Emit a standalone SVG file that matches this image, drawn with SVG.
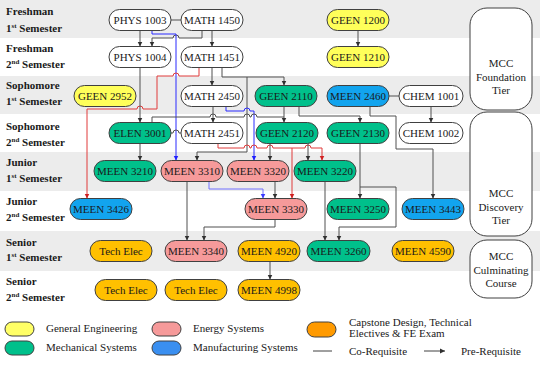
<svg xmlns="http://www.w3.org/2000/svg" width="540" height="372" viewBox="0 0 540 372" font-family="'Liberation Serif', 'Times New Roman', 'DejaVu Serif', serif">
<defs>
<style>
.band{fill:#ececec}
.n{stroke:#404040;stroke-width:1}
.w{fill:#ffffff}.y{fill:#ffff5a}.g{fill:#00c08b}.b{fill:#12a4ee}.p{fill:#f69a9a}.o{fill:#ffc000}
.t{font-family:'Liberation Serif','Times New Roman','DejaVu Serif',serif;font-size:11px;fill:#1a1a1a;text-anchor:middle}
.lab{font-family:'Liberation Serif','Times New Roman','DejaVu Serif',serif;font-size:11px;font-weight:bold;fill:#1a1a1a}
.lg{font-family:'Liberation Serif','Times New Roman','DejaVu Serif',serif;font-size:11px;fill:#1a1a1a}
.c{fill:none;stroke:#505050;stroke-width:1}
.cr{fill:none;stroke:#e03a3a;stroke-width:1}
.cb{fill:none;stroke:#2b2bff;stroke-width:1}
.cl{fill:none;stroke:#7070ff;stroke-width:1}
.mcc{fill:#ffffff;stroke:#404040;stroke-width:1}
</style>
<marker id="ag" markerWidth="6" markerHeight="6" refX="5" refY="3" orient="auto" markerUnits="userSpaceOnUse"><path d="M0,0.5 L5,3 L0,5.5 Z" fill="#303030"/></marker>
<marker id="ar" markerWidth="6" markerHeight="6" refX="5" refY="3" orient="auto" markerUnits="userSpaceOnUse"><path d="M0,0.5 L5,3 L0,5.5 Z" fill="#d02020"/></marker>
<marker id="ab" markerWidth="6" markerHeight="6" refX="5" refY="3" orient="auto" markerUnits="userSpaceOnUse"><path d="M0,0.5 L5,3 L0,5.5 Z" fill="#1f1fff"/></marker>
<marker id="al" markerWidth="6" markerHeight="6" refX="5" refY="3" orient="auto" markerUnits="userSpaceOnUse"><path d="M0,0.5 L5,3 L0,5.5 Z" fill="#3a3aff"/></marker>
</defs>

<g id="bands">
<rect class="band" x="0" y="0" width="540" height="38"/>
<rect class="band" x="0" y="76" width="540" height="38"/>
<rect class="band" x="0" y="152" width="540" height="39"/>
<rect class="band" x="0" y="231" width="540" height="40"/>
</g>

<g id="row-labels">
<text class="lab" x="6" y="15">Freshman</text>
<text class="lab" x="6" y="32">1<tspan font-size="7" dy="-4">st</tspan><tspan dy="4"> Semester</tspan></text>
<text class="lab" x="6" y="52">Freshman</text>
<text class="lab" x="6" y="68">2<tspan font-size="7" dy="-4">nd</tspan><tspan dy="4"> Semester</tspan></text>
<text class="lab" x="6" y="89">Sophomore</text>
<text class="lab" x="6" y="105">1<tspan font-size="7" dy="-4">st</tspan><tspan dy="4"> Semester</tspan></text>
<text class="lab" x="6" y="130">Sophomore</text>
<text class="lab" x="6" y="146">2<tspan font-size="7" dy="-4">nd</tspan><tspan dy="4"> Semester</tspan></text>
<text class="lab" x="6" y="166">Junior</text>
<text class="lab" x="6" y="182">1<tspan font-size="7" dy="-4">st</tspan><tspan dy="4"> Semester</tspan></text>
<text class="lab" x="6" y="205">Junior</text>
<text class="lab" x="6" y="221">2<tspan font-size="7" dy="-4">nd</tspan><tspan dy="4"> Semester</tspan></text>
<text class="lab" x="6" y="246">Senior</text>
<text class="lab" x="6" y="261">1<tspan font-size="7" dy="-4">st</tspan><tspan dy="4"> Semester</tspan></text>
<text class="lab" x="6" y="285">Senior</text>
<text class="lab" x="6" y="301">2<tspan font-size="7" dy="-4">nd</tspan><tspan dy="4"> Semester</tspan></text>
</g>

<g id="mcc">
<g id="mcc-foundation"><rect class="mcc" x="470" y="8" width="62" height="102" rx="17"/>
<text class="t" x="501" y="67">MCC</text><text class="t" x="501" y="81">Foundation</text><text class="t" x="501" y="94">Tier</text></g>
<g id="mcc-discovery"><rect class="mcc" x="470" y="112" width="62" height="124" rx="17"/>
<text class="t" x="501" y="197">MCC</text><text class="t" x="501" y="211">Discovery</text><text class="t" x="501" y="224">Tier</text></g>
<g id="mcc-culminating"><rect class="mcc" x="470" y="240" width="62" height="58" rx="17"/>
<text class="t" x="501" y="260">MCC</text><text class="t" x="501" y="274">Culminating</text><text class="t" x="501" y="287">Course</text></g>
</g>

<g id="connectors">
<path class="c" d="M171 20 H181"/>
<path class="c" d="M140 30.5 V46.5" marker-end="url(#ag)"/>
<path class="c" d="M202 30.5 V38 H179 A3 3 0 0 0 173 38 H152 V46.5" marker-end="url(#ag)"/>
<path class="c" d="M212 30.5 V46.5" marker-end="url(#ag)"/>
<path class="c" d="M358 30.5 V46.5" marker-end="url(#ag)"/>
<path class="cb" d="M152 30.5 V34 H176 V160.5" marker-end="url(#ab)"/>
<path class="cr" d="M199 67.5 V76 H179 A3 3 0 0 0 173 76 H157 V109 H143 A3 3 0 0 0 137 109 H87 V198.5" marker-end="url(#ar)"/>
<path class="c" d="M140 67.5 V122.5" marker-end="url(#ag)"/>
<path class="c" d="M212 67.5 V85.5" marker-end="url(#ag)"/>
<path class="c" d="M222 67.5 V77 H284 V85.5" marker-end="url(#ag)"/>
<path class="c" d="M247 77 V152 H197 V160.5" marker-end="url(#ag)"/>
<path class="c" d="M213 106.5 V122.5" marker-end="url(#ag)"/>
<path class="cb" d="M226 106.5 V111 H244 A3 3 0 0 1 250 111 H254 V160.5" marker-end="url(#ab)"/>
<path class="c" d="M152 122.5 V117 H210 A3 3 0 0 1 216 117 H244 A3 3 0 0 1 250 117 H251 A3 3 0 0 1 257 117 H284"/>
<path class="c" d="M171 133 H173 A3 3 0 0 1 179 133 H181"/>
<path class="c" d="M140 143.5 V160.5" marker-end="url(#ag)"/>
<path class="cr" d="M218 143.5 V148 H244 A3 3 0 0 1 250 148 H251 A3 3 0 0 1 257 148 H267 A3 3 0 0 1 273 148 H305 A3 3 0 0 1 311 148 H322 V160.5" marker-end="url(#ar)"/>
<path class="cr" d="M292 148 V198.5" marker-end="url(#ar)"/>
<path class="c" d="M284 106.5 V122.5" marker-end="url(#ag)"/>
<path class="c" d="M299 106.5 V116 H360 V122.5" marker-end="url(#ag)"/>
<path class="c" d="M370 106.5 V116 H396 V149 H433 V198.5" marker-end="url(#ag)"/>
<path class="c" d="M389 96 H399"/>
<path class="c" d="M431 106.5 V122.5" marker-end="url(#ag)"/>
<path class="c" d="M270 143.5 V160.5" marker-end="url(#ag)"/>
<path class="c" d="M308 143.5 V160.5" marker-end="url(#ag)"/>
<path class="c" d="M360 143.5 V198.5" marker-end="url(#ag)"/>
<path class="c" d="M360 187 H396 V227 H339 V240.5" marker-end="url(#ag)"/>
<path class="c" d="M325 181.5 V240.5" marker-end="url(#ag)"/>
<path class="c" d="M187 181.5 V240.5" marker-end="url(#ag)"/>
<path class="cl" d="M209 181.5 V189 H263 V198.5" marker-end="url(#al)"/>
<path class="c" d="M275 181.5 V198.5" marker-end="url(#ag)"/>
<path class="c" d="M275 219.5 V227 H204 V240.5" marker-end="url(#ag)"/>
<path class="c" d="M270 261.5 V279.5" marker-end="url(#ag)"/>
</g>

<g id="nodes">
<g id="phys1003"><rect class="n w" x="109" y="9.5" width="62" height="21" rx="10.5"/><text class="t" x="140" y="24">PHYS 1003</text></g>
<g id="math1450"><rect class="n w" x="181" y="9.5" width="62" height="21" rx="10.5"/><text class="t" x="212" y="24">MATH 1450</text></g>
<g id="geen1200"><rect class="n y" x="327" y="9.5" width="62" height="21" rx="10.5"/><text class="t" x="358" y="24">GEEN 1200</text></g>
<g id="phys1004"><rect class="n w" x="109" y="46.5" width="62" height="21" rx="10.5"/><text class="t" x="140" y="61">PHYS 1004</text></g>
<g id="math1451"><rect class="n w" x="181" y="46.5" width="62" height="21" rx="10.5"/><text class="t" x="212" y="61">MATH 1451</text></g>
<g id="geen1210"><rect class="n y" x="327" y="46.5" width="62" height="21" rx="10.5"/><text class="t" x="358" y="61">GEEN 1210</text></g>
<g id="geen2952"><rect class="n y" x="74" y="85.5" width="62" height="21" rx="10.5"/><text class="t" x="105" y="100">GEEN 2952</text></g>
<g id="math2450"><rect class="n w" x="181" y="85.5" width="62" height="21" rx="10.5"/><text class="t" x="212" y="100">MATH 2450</text></g>
<g id="geen2110"><rect class="n g" x="255" y="85.5" width="62" height="21" rx="10.5"/><text class="t" x="286" y="100">GEEN 2110</text></g>
<g id="meen2460"><rect class="n b" x="327" y="85.5" width="62" height="21" rx="10.5"/><text class="t" x="358" y="100">MEEN 2460</text></g>
<g id="chem1001"><rect class="n w" x="399" y="85.5" width="64" height="21" rx="10.5"/><text class="t" x="431" y="100">CHEM 1001</text></g>
<g id="elen3001"><rect class="n g" x="109" y="122.5" width="62" height="21" rx="10.5"/><text class="t" x="140" y="137">ELEN 3001</text></g>
<g id="math2451"><rect class="n w" x="181" y="122.5" width="62" height="21" rx="10.5"/><text class="t" x="212" y="137">MATH 2451</text></g>
<g id="geen2120"><rect class="n g" x="256" y="122.5" width="62" height="21" rx="10.5"/><text class="t" x="287" y="137">GEEN 2120</text></g>
<g id="geen2130"><rect class="n g" x="327" y="122.5" width="62" height="21" rx="10.5"/><text class="t" x="358" y="137">GEEN 2130</text></g>
<g id="chem1002"><rect class="n w" x="399" y="122.5" width="64" height="21" rx="10.5"/><text class="t" x="431" y="137">CHEM 1002</text></g>
<g id="meen3210"><rect class="n g" x="94" y="160.5" width="62" height="21" rx="10.5"/><text class="t" x="125" y="175">MEEN 3210</text></g>
<g id="meen3310"><rect class="n p" x="161" y="160.5" width="62" height="21" rx="10.5"/><text class="t" x="192" y="175">MEEN 3310</text></g>
<g id="meen3320"><rect class="n p" x="227" y="160.5" width="62" height="21" rx="10.5"/><text class="t" x="258" y="175">MEEN 3320</text></g>
<g id="meen3220"><rect class="n g" x="294" y="160.5" width="62" height="21" rx="10.5"/><text class="t" x="325" y="175">MEEN 3220</text></g>
<g id="meen3426"><rect class="n b" x="70" y="198.5" width="62" height="21" rx="10.5"/><text class="t" x="101" y="213">MEEN 3426</text></g>
<g id="meen3330"><rect class="n p" x="245" y="198.5" width="62" height="21" rx="10.5"/><text class="t" x="276" y="213">MEEN 3330</text></g>
<g id="meen3250"><rect class="n g" x="327" y="198.5" width="62" height="21" rx="10.5"/><text class="t" x="358" y="213">MEEN 3250</text></g>
<g id="meen3443"><rect class="n b" x="402" y="198.5" width="62" height="21" rx="10.5"/><text class="t" x="433" y="213">MEEN 3443</text></g>
<g id="techelec1"><rect class="n o" x="90" y="240.5" width="62" height="21" rx="10.5"/><text class="t" x="121" y="255">Tech Elec</text></g>
<g id="meen3340"><rect class="n p" x="165" y="240.5" width="62" height="21" rx="10.5"/><text class="t" x="196" y="255">MEEN 3340</text></g>
<g id="meen4920"><rect class="n o" x="238" y="240.5" width="62" height="21" rx="10.5"/><text class="t" x="269" y="255">MEEN 4920</text></g>
<g id="meen3260"><rect class="n g" x="307" y="240.5" width="63" height="21" rx="10.5"/><text class="t" x="338.5" y="255">MEEN 3260</text></g>
<g id="meen4590"><rect class="n o" x="392" y="240.5" width="62" height="21" rx="10.5"/><text class="t" x="423" y="255">MEEN 4590</text></g>
<g id="techelec2"><rect class="n o" x="95" y="279.5" width="62" height="21" rx="10.5"/><text class="t" x="126" y="294">Tech Elec</text></g>
<g id="techelec3"><rect class="n o" x="165" y="279.5" width="62" height="21" rx="10.5"/><text class="t" x="196" y="294">Tech Elec</text></g>
<g id="meen4998"><rect class="n o" x="238" y="279.5" width="62" height="21" rx="10.5"/><text class="t" x="269" y="294">MEEN 4998</text></g>
</g>

<g id="legend">
<rect class="n" x="5" y="322" width="29" height="14" rx="7" fill="#ffff66"/>
<text class="lg" x="46" y="332">General Engineering</text>
<rect class="n" x="5" y="341" width="29" height="14" rx="7" fill="#00c08b"/>
<text class="lg" x="46" y="351">Mechanical Systems</text>
<rect class="n" x="152" y="322" width="29" height="14" rx="7" fill="#f69a9a"/>
<text class="lg" x="193" y="332">Energy Systems</text>
<rect class="n" x="152" y="341" width="29" height="14" rx="7" fill="#3a8ff0"/>
<text class="lg" x="193" y="351">Manufacturing Systems</text>
<rect class="n" x="307" y="322" width="29" height="15" rx="7.5" fill="#ff9a00"/>
<text class="lg" x="349" y="325.5">Capstone Design, Technical</text>
<text class="lg" x="349" y="337">Electives &amp; FE Exam</text>
<path d="M313 351 H332" stroke="#404040" stroke-width="1"/>
<text class="lg" x="349" y="355">Co-Requisite</text>
<path d="M424 351 H445" stroke="#404040" stroke-width="1" marker-end="url(#ag)"/>
<text class="lg" x="461" y="355">Pre-Requisite</text>
</g>
</svg>
